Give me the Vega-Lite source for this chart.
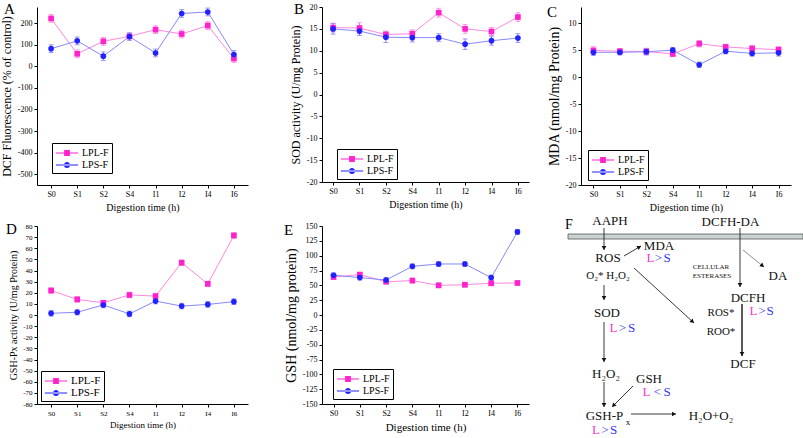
{
  "$schema": "https://vega.github.io/schema/vega-lite/v6.json",
  "background": "white",
  "padding": {"left": 0, "top": 2, "right": 0, "bottom": 0},
  "spacing": 3,
  "config": {
    "font": "Liberation Serif",
    "view": {"stroke": null},
    "axis": {"labelFont": "Liberation Serif", "titleFont": "Liberation Serif", "labelFontSize": 8, "titleFontWeight": "normal", "domainColor": "#000", "tickColor": "#000", "labelColor": "#000", "titleColor": "#000", "grid": false, "tickSize": 3, "labelPadding": 2, "labelExpr": "replace(datum.label, '\u2212', '-')"},
    "axisX": {"labelAngle": 0, "titleFontSize": 10, "titlePadding": 4},
    "axisY": {"titleFontSize": 12, "titlePadding": 4, "labelFlush": false},
    "legend": {"labelFont": "Liberation Serif", "labelFontSize": 10, "labelColor": "#000", "strokeColor": "#000", "fillColor": "white", "padding": 3, "rowPadding": 0, "labelOffset": 8, "symbolOffset": 5},
    "title": {"font": "Liberation Serif", "fontSize": 15, "fontWeight": "normal", "anchor": "start", "frame": "group", "offset": 0, "baseline": "alphabetic", "color": "#000"}
  },
  "datasets": {
    "d": [
      {"p":"A","s":"LPL-F","t":"S0","v":222,"e":18},{"p":"A","s":"LPL-F","t":"S1","v":58,"e":18},{"p":"A","s":"LPL-F","t":"S2","v":116,"e":18},{"p":"A","s":"LPL-F","t":"S4","v":139,"e":12},{"p":"A","s":"LPL-F","t":"I1","v":170,"e":18},{"p":"A","s":"LPL-F","t":"I2","v":150,"e":18},{"p":"A","s":"LPL-F","t":"I4","v":189,"e":18},{"p":"A","s":"LPL-F","t":"I6","v":36,"e":18},
      {"p":"A","s":"LPS-F","t":"S0","v":82,"e":18},{"p":"A","s":"LPS-F","t":"S1","v":118,"e":18},{"p":"A","s":"LPS-F","t":"S2","v":47,"e":20},{"p":"A","s":"LPS-F","t":"S4","v":138,"e":18},{"p":"A","s":"LPS-F","t":"I1","v":62,"e":18},{"p":"A","s":"LPS-F","t":"I2","v":245,"e":18},{"p":"A","s":"LPS-F","t":"I4","v":252,"e":18},{"p":"A","s":"LPS-F","t":"I6","v":55,"e":18},
      {"p":"B","s":"LPL-F","t":"S0","v":15.3,"e":1},{"p":"B","s":"LPL-F","t":"S1","v":15.2,"e":1.2},{"p":"B","s":"LPL-F","t":"S2","v":13.7,"e":0.8},{"p":"B","s":"LPL-F","t":"S4","v":13.9,"e":0.9},{"p":"B","s":"LPL-F","t":"I1","v":18.7,"e":1},{"p":"B","s":"LPL-F","t":"I2","v":15.0,"e":1},{"p":"B","s":"LPL-F","t":"I4","v":14.4,"e":0.9},{"p":"B","s":"LPL-F","t":"I6","v":17.7,"e":1},
      {"p":"B","s":"LPS-F","t":"S0","v":15.0,"e":1.2},{"p":"B","s":"LPS-F","t":"S1","v":14.5,"e":1},{"p":"B","s":"LPS-F","t":"S2","v":13.1,"e":1.2},{"p":"B","s":"LPS-F","t":"S4","v":13.0,"e":1},{"p":"B","s":"LPS-F","t":"I1","v":13.0,"e":0.9},{"p":"B","s":"LPS-F","t":"I2","v":11.5,"e":1.2},{"p":"B","s":"LPS-F","t":"I4","v":12.3,"e":1},{"p":"B","s":"LPS-F","t":"I6","v":12.9,"e":1},
      {"p":"C","s":"LPL-F","t":"S0","v":4.95,"e":0.7},{"p":"C","s":"LPL-F","t":"S1","v":4.8,"e":0.5},{"p":"C","s":"LPL-F","t":"S2","v":4.75,"e":0.6},{"p":"C","s":"LPL-F","t":"S4","v":4.3,"e":0.5},{"p":"C","s":"LPL-F","t":"I1","v":6.2,"e":0.6},{"p":"C","s":"LPL-F","t":"I2","v":5.6,"e":0.5},{"p":"C","s":"LPL-F","t":"I4","v":5.3,"e":0.6},{"p":"C","s":"LPL-F","t":"I6","v":5.1,"e":0.5},
      {"p":"C","s":"LPS-F","t":"S0","v":4.6,"e":0.6},{"p":"C","s":"LPS-F","t":"S1","v":4.6,"e":0.5},{"p":"C","s":"LPS-F","t":"S2","v":4.7,"e":0.6},{"p":"C","s":"LPS-F","t":"S4","v":5.0,"e":0.5},{"p":"C","s":"LPS-F","t":"I1","v":2.3,"e":0.5},{"p":"C","s":"LPS-F","t":"I2","v":4.8,"e":0.5},{"p":"C","s":"LPS-F","t":"I4","v":4.4,"e":0.5},{"p":"C","s":"LPS-F","t":"I6","v":4.5,"e":0.6},
      {"p":"D","s":"LPL-F","t":"S0","v":22,"e":2.5},{"p":"D","s":"LPL-F","t":"S1","v":14,"e":2.5},{"p":"D","s":"LPL-F","t":"S2","v":11,"e":2},{"p":"D","s":"LPL-F","t":"S4","v":18,"e":2.5},{"p":"D","s":"LPL-F","t":"I1","v":17,"e":2.5},{"p":"D","s":"LPL-F","t":"I2","v":47,"e":2.5},{"p":"D","s":"LPL-F","t":"I4","v":28,"e":2.5},{"p":"D","s":"LPL-F","t":"I6","v":71.5,"e":2.5},
      {"p":"D","s":"LPS-F","t":"S0","v":1.5,"e":2.5},{"p":"D","s":"LPS-F","t":"S1","v":2.5,"e":2.5},{"p":"D","s":"LPS-F","t":"S2","v":9,"e":2.5},{"p":"D","s":"LPS-F","t":"S4","v":1,"e":2.5},{"p":"D","s":"LPS-F","t":"I1","v":12.5,"e":2.5},{"p":"D","s":"LPS-F","t":"I2","v":8,"e":2.5},{"p":"D","s":"LPS-F","t":"I4","v":9.5,"e":2.5},{"p":"D","s":"LPS-F","t":"I6","v":12,"e":2.5},
      {"p":"E","s":"LPL-F","t":"S0","v":64,"e":4},{"p":"E","s":"LPL-F","t":"S1","v":68,"e":4},{"p":"E","s":"LPL-F","t":"S2","v":56,"e":3},{"p":"E","s":"LPL-F","t":"S4","v":58,"e":4},{"p":"E","s":"LPL-F","t":"I1","v":50,"e":4},{"p":"E","s":"LPL-F","t":"I2","v":51,"e":4},{"p":"E","s":"LPL-F","t":"I4","v":53.5,"e":4},{"p":"E","s":"LPL-F","t":"I6","v":54,"e":4},
      {"p":"E","s":"LPS-F","t":"S0","v":67,"e":4},{"p":"E","s":"LPS-F","t":"S1","v":63,"e":4},{"p":"E","s":"LPS-F","t":"S2","v":59,"e":4},{"p":"E","s":"LPS-F","t":"S4","v":82,"e":4},{"p":"E","s":"LPS-F","t":"I1","v":86,"e":4},{"p":"E","s":"LPS-F","t":"I2","v":86,"e":4},{"p":"E","s":"LPS-F","t":"I4","v":63,"e":4},{"p":"E","s":"LPS-F","t":"I6","v":140,"e":4}
    ]
  },
  "resolve": {"scale": {"color": "independent", "fill": "independent", "stroke": "independent", "shape": "independent"}, "legend": {"color": "independent", "fill": "independent", "stroke": "independent", "shape": "independent"}},
  "vconcat": [
    {
      "bounds": "flush",
      "spacing": 74,
      "resolve": {"scale": {"color": "independent", "fill": "independent", "stroke": "independent", "shape": "independent"}, "legend": {"color": "independent", "fill": "independent", "stroke": "independent", "shape": "independent"}},
      "hconcat": [
        {
          "width": 211, "height": 178,
          "title": {"text": "A", "dx": -33, "dy": 14},
          "data": {"name": "d"},
          "transform": [{"filter": "datum.p === 'A'"}],
          "encoding": {
            "x": {"field": "t", "type": "ordinal", "sort": ["S0","S1","S2","S4","I1","I2","I4","I6"], "scale": {"type": "point", "padding": 0.54}, "axis": {"title": "Digestion time (h)"}},
            "y": {"field": "v", "type": "quantitative", "scale": {"domain": [-550, 275], "nice": false, "zero": false}, "axis": {"title": "DCF Fluorescence (% of control)", "values": [-500,-400,-300,-200,-100,0,100,200]}}
          },
          "layer": [
            {"mark": {"type": "errorbar", "ticks": {"size": 5}, "thickness": 1}, "encoding": {"yError": {"field": "e"}, "color": {"field": "s", "type": "nominal", "scale": {"domain": ["LPS-F","LPL-F"], "range": ["#7777ff", "#ff77dd"]}, "legend": null}}},
            {"mark": {"type": "line", "strokeWidth": 1}, "encoding": {"stroke": {"field": "s", "type": "nominal", "scale": {"domain": ["LPS-F","LPL-F","x"], "range": ["#8888ff", "#ff88e0", "#000"]}, "legend": null}}},
            {"mark": {"type": "point", "filled": true, "size": 32, "opacity": 1}, "encoding": {
              "fill": {"field": "s", "type": "nominal", "scale": {"domain": ["LPL-F","LPS-F"], "range": ["#ff22cc", "#2222ff"]}, "legend": {"title": null, "orient": "none", "legendX": 15, "legendY": 136, "labelFont": "Liberation Serif", "symbolSize": 144, "symbolType": {"expr": "datum.value === 'LPL-F' ? 'M-1.85,-0.085H1.85V0.085H-1.85Z M-0.48,-0.48H0.48V0.48H-0.48Z' : 'M-1.85,-0.085H1.85V0.085H-1.85Z M-0.52,0A0.52,0.52 0 1,0 0.52,0A0.52,0.52 0 1,0 -0.52,0Z'"}}},
              "shape": {"field": "s", "type": "nominal", "scale": {"domain": ["LPS-F","LPL-F","y"], "range": ["circle", "square", "circle"]}, "legend": null}}}
          ]
        },
        {
          "bounds": "flush",
          "spacing": 52,
          "resolve": {"scale": {"color": "independent", "fill": "independent", "stroke": "independent", "shape": "independent"}, "legend": {"color": "independent", "fill": "independent", "stroke": "independent", "shape": "independent"}},
          "hconcat": [
            {
              "width": 207, "height": 175,
              "title": {"text": "B", "dx": -28, "dy": 18},
              "data": {"name": "d"},
              "transform": [{"filter": "datum.p === 'B'"}],
              "encoding": {
                "x": {"field": "t", "type": "ordinal", "sort": ["S0","S1","S2","S4","I1","I2","I4","I6"], "scale": {"type": "point", "padding": 0.42}, "axis": {"title": "Digestion time (h)"}},
                "y": {"field": "v", "type": "quantitative", "scale": {"domain": [-20, 20], "nice": false, "zero": false}, "axis": {"title": "SOD activity (U/mg Protein)", "values": [-20,-15,-10,-5,0,5,10,15,20]}}
              },
              "layer": [
                {"mark": {"type": "errorbar", "ticks": {"size": 5}, "thickness": 1}, "encoding": {"yError": {"field": "e"}, "color": {"field": "s", "type": "nominal", "scale": {"domain": ["LPS-F","LPL-F"], "range": ["#7777ff", "#ff77dd"]}, "legend": null}}},
                {"mark": {"type": "line", "strokeWidth": 1}, "encoding": {"stroke": {"field": "s", "type": "nominal", "scale": {"domain": ["LPS-F","LPL-F","x"], "range": ["#8888ff", "#ff88e0", "#000"]}, "legend": null}}},
                {"mark": {"type": "point", "filled": true, "size": 32, "opacity": 1}, "encoding": {
                  "fill": {"field": "s", "type": "nominal", "scale": {"domain": ["LPL-F","LPS-F"], "range": ["#ff22cc", "#2222ff"]}, "legend": {"title": null, "orient": "none", "legendX": 15, "legendY": 142, "labelFont": "Liberation Serif", "symbolSize": 144, "symbolType": {"expr": "datum.value === 'LPL-F' ? 'M-1.85,-0.085H1.85V0.085H-1.85Z M-0.48,-0.48H0.48V0.48H-0.48Z' : 'M-1.85,-0.085H1.85V0.085H-1.85Z M-0.52,0A0.52,0.52 0 1,0 0.52,0A0.52,0.52 0 1,0 -0.52,0Z'"}}},
                  "shape": {"field": "s", "type": "nominal", "scale": {"domain": ["LPS-F","LPL-F","y"], "range": ["circle", "square", "circle"]}, "legend": null}}}
              ]
            },
            {
              "width": 210, "height": 178,
              "title": {"text": "C", "dx": -34, "dy": 17},
              "data": {"name": "d"},
              "transform": [{"filter": "datum.p === 'C'"}],
              "encoding": {
                "x": {"field": "t", "type": "ordinal", "sort": ["S0","S1","S2","S4","I1","I2","I4","I6"], "scale": {"type": "point", "padding": 0.47}, "axis": {"title": "Digestion time (h)"}},
                "y": {"field": "v", "type": "quantitative", "scale": {"domain": [-20, 13], "nice": false, "zero": false}, "axis": {"title": "MDA (nmol/mg Protein)", "titleFontSize": 14, "values": [-20,-15,-10,-5,0,5,10]}}
              },
              "layer": [
                {"mark": {"type": "errorbar", "ticks": {"size": 5}, "thickness": 1}, "encoding": {"yError": {"field": "e"}, "color": {"field": "s", "type": "nominal", "scale": {"domain": ["LPS-F","LPL-F"], "range": ["#7777ff", "#ff77dd"]}, "legend": null}}},
                {"mark": {"type": "line", "strokeWidth": 1}, "encoding": {"stroke": {"field": "s", "type": "nominal", "scale": {"domain": ["LPS-F","LPL-F","x"], "range": ["#8888ff", "#ff88e0", "#000"]}, "legend": null}}},
                {"mark": {"type": "point", "filled": true, "size": 32, "opacity": 1}, "encoding": {
                  "fill": {"field": "s", "type": "nominal", "scale": {"domain": ["LPL-F","LPS-F"], "range": ["#ff22cc", "#2222ff"]}, "legend": {"title": null, "orient": "none", "legendX": 7, "legendY": 143, "labelFont": "Liberation Serif", "symbolSize": 144, "symbolType": {"expr": "datum.value === 'LPL-F' ? 'M-1.85,-0.085H1.85V0.085H-1.85Z M-0.48,-0.48H0.48V0.48H-0.48Z' : 'M-1.85,-0.085H1.85V0.085H-1.85Z M-0.52,0A0.52,0.52 0 1,0 0.52,0A0.52,0.52 0 1,0 -0.52,0Z'"}}},
                  "shape": {"field": "s", "type": "nominal", "scale": {"domain": ["LPS-F","LPL-F","y"], "range": ["circle", "square", "circle"]}, "legend": null}}}
              ]
            }
          ]
        }
      ]
    },
    {
      "bounds": "flush",
      "spacing": 74,
      "resolve": {"scale": {"color": "independent", "fill": "independent", "stroke": "independent", "shape": "independent"}, "legend": {"color": "independent", "fill": "independent", "stroke": "independent", "shape": "independent"}},
      "hconcat": [
        {
          "width": 211, "height": 178,
          "title": {"text": "D", "dx": -31, "dy": 19},
          "data": {"name": "d"},
          "transform": [{"filter": "datum.p === 'D'"}],
          "encoding": {
            "x": {"field": "t", "type": "ordinal", "sort": ["S0","S1","S2","S4","I1","I2","I4","I6"], "scale": {"type": "point", "padding": 0.54}, "axis": {"title": "Digestion time (h)", "titleFontSize": 9, "labelFontSize": 7}},
            "y": {"field": "v", "type": "quantitative", "scale": {"domain": [-80, 80], "nice": false, "zero": false}, "axis": {"title": "GSH-Px activity (U/mg Protein)", "titleFontSize": 10, "labelFontSize": 7, "values": [-80,-70,-60,-50,-40,-30,-20,-10,0,10,20,30,40,50,60,70,80]}}
          },
          "layer": [
            {"mark": {"type": "errorbar", "ticks": {"size": 5}, "thickness": 1}, "encoding": {"yError": {"field": "e"}, "color": {"field": "s", "type": "nominal", "scale": {"domain": ["LPS-F","LPL-F"], "range": ["#7777ff", "#ff77dd"]}, "legend": null}}},
            {"mark": {"type": "line", "strokeWidth": 1}, "encoding": {"stroke": {"field": "s", "type": "nominal", "scale": {"domain": ["LPS-F","LPL-F","x"], "range": ["#8888ff", "#ff88e0", "#000"]}, "legend": null}}},
            {"mark": {"type": "point", "filled": true, "size": 32, "opacity": 1}, "encoding": {
              "fill": {"field": "s", "type": "nominal", "scale": {"domain": ["LPL-F","LPS-F"], "range": ["#ff22cc", "#2222ff"]}, "legend": {"title": null, "orient": "none", "legendX": 4, "legendY": 145, "labelFont": "Liberation Serif", "labelFontSize": 11, "symbolSize": 144, "symbolType": {"expr": "datum.value === 'LPL-F' ? 'M-1.85,-0.085H1.85V0.085H-1.85Z M-0.48,-0.48H0.48V0.48H-0.48Z' : 'M-1.85,-0.085H1.85V0.085H-1.85Z M-0.52,0A0.52,0.52 0 1,0 0.52,0A0.52,0.52 0 1,0 -0.52,0Z'"}}},
              "shape": {"field": "s", "type": "nominal", "scale": {"domain": ["LPS-F","LPL-F","y"], "range": ["circle", "square", "circle"]}, "legend": null}}}
          ]
        },
        {
          "bounds": "flush",
          "spacing": 27,
          "resolve": {"scale": {"color": "independent", "fill": "independent", "stroke": "independent", "shape": "independent"}, "legend": {"color": "independent", "fill": "independent", "stroke": "independent", "shape": "independent"}},
          "hconcat": [
            {
              "width": 207, "height": 178,
              "title": {"text": "E", "dx": -38, "dy": 20},
              "data": {"name": "d"},
              "transform": [{"filter": "datum.p === 'E'"}],
              "encoding": {
                "x": {"field": "t", "type": "ordinal", "sort": ["S0","S1","S2","S4","I1","I2","I4","I6"], "scale": {"type": "point", "padding": 0.44}, "axis": {"title": "Digestion time (h)", "titleFontSize": 11}},
                "y": {"field": "v", "type": "quantitative", "scale": {"domain": [-150, 150], "nice": false, "zero": false}, "axis": {"title": "GSH (nmol/mg protein)", "titleFontSize": 14, "values": [-150,-125,-100,-75,-50,-25,0,25,50,75,100,125,150]}}
              },
              "layer": [
                {"mark": {"type": "errorbar", "ticks": {"size": 5}, "thickness": 1}, "encoding": {"yError": {"field": "e"}, "color": {"field": "s", "type": "nominal", "scale": {"domain": ["LPS-F","LPL-F"], "range": ["#7777ff", "#ff77dd"]}, "legend": null}}},
                {"mark": {"type": "line", "strokeWidth": 1}, "encoding": {"stroke": {"field": "s", "type": "nominal", "scale": {"domain": ["LPS-F","LPL-F","x"], "range": ["#8888ff", "#ff88e0", "#000"]}, "legend": null}}},
                {"mark": {"type": "point", "filled": true, "size": 32, "opacity": 1}, "encoding": {
                  "fill": {"field": "s", "type": "nominal", "scale": {"domain": ["LPL-F","LPS-F"], "range": ["#ff22cc", "#2222ff"]}, "legend": {"title": null, "orient": "none", "legendX": 11, "legendY": 143, "labelFont": "Liberation Serif", "symbolSize": 144, "symbolType": {"expr": "datum.value === 'LPL-F' ? 'M-1.85,-0.085H1.85V0.085H-1.85Z M-0.48,-0.48H0.48V0.48H-0.48Z' : 'M-1.85,-0.085H1.85V0.085H-1.85Z M-0.52,0A0.52,0.52 0 1,0 0.52,0A0.52,0.52 0 1,0 -0.52,0Z'"}}},
                  "shape": {"field": "s", "type": "nominal", "scale": {"domain": ["LPS-F","LPL-F","y"], "range": ["circle", "square", "circle"]}, "legend": null}}}
              ]
            },
            {
              "width": 248, "height": 212,
              "title": {"text": "F", "dx": 9, "dy": 21, "fontSize": 14},
              "encoding": {
                "x": {"field": "x", "type": "quantitative", "scale": {"domain": [0, 248], "nice": false, "zero": false}, "axis": null},
                "y": {"field": "y", "type": "quantitative", "scale": {"domain": [0, 212], "nice": false, "zero": false, "reverse": true}, "axis": null}
              },
              "layer": [
                {"data": {"values": [{"x": 12, "x2": 247, "y": 8, "y2": 13}]}, "mark": {"type": "rect", "fill": "#c9d3d3", "stroke": "#555", "strokeWidth": 0.8}, "encoding": {"x2": {"field": "x2"}, "y2": {"field": "y2"}}},
                {"data": {"values": [
                  {"x": 48, "y": 2, "x2": 48, "y2": 24},
                  {"x": 68, "y": 30, "x2": 85, "y2": 20},
                  {"x": 184, "y": 2, "x2": 184, "y2": 61},
                  {"x": 78, "y": 42, "x2": 138, "y2": 97},
                  {"x": 48, "y": 59, "x2": 48, "y2": 74},
                  {"x": 48, "y": 96, "x2": 48, "y2": 136},
                  {"x": 48, "y": 156, "x2": 48, "y2": 181},
                  {"x": 77, "y": 160, "x2": 56, "y2": 181},
                  {"x": 75, "y": 188, "x2": 120, "y2": 188}
                ]}, "mark": {"type": "rule", "color": "#222", "strokeWidth": 0.9}, "encoding": {"x2": {"field": "x2"}, "y2": {"field": "y2"}}},
                {"data": {"values": [{"x": 187, "y": 24, "x2": 208, "y2": 41}]}, "mark": {"type": "rule", "color": "#444", "strokeWidth": 0.6}, "encoding": {"x2": {"field": "x2"}, "y2": {"field": "y2"}}},
                {"data": {"values": [{"x": 186, "y": 78, "x2": 186, "y2": 130}]}, "mark": {"type": "rule", "color": "#222", "strokeWidth": 1.5}, "encoding": {"x2": {"field": "x2"}, "y2": {"field": "y2"}}},
                {"data": {"values": [
                  {"x": 48, "y": 22, "a": 180},
                  {"x": 83.3, "y": 21, "a": 59.5},
                  {"x": 184, "y": 59, "a": 180},
                  {"x": 206.4, "y": 39.7, "a": 129},
                  {"x": 136.5, "y": 95.6, "a": 132.5},
                  {"x": 48, "y": 72, "a": 180},
                  {"x": 48, "y": 134, "a": 180},
                  {"x": 186, "y": 128, "a": 180},
                  {"x": 48, "y": 179, "a": 180},
                  {"x": 57.4, "y": 179.6, "a": 225},
                  {"x": 118, "y": 188, "a": 90}
                ]}, "mark": {"type": "point", "shape": "triangle-up", "filled": true, "color": "#111", "size": 22, "opacity": 1}, "encoding": {"angle": {"field": "a", "type": "quantitative", "scale": null}}},
                {"data": {"values": [
                  {"x": 54, "y": -1, "t": "AAPH"},
                  {"x": 174.5, "y": 0, "t": "DCFH-DA"},
                  {"x": 52, "y": 36, "t": "ROS"},
                  {"x": 103, "y": 24, "t": "MDA"},
                  {"x": 222, "y": 54, "t": "DA"},
                  {"x": 51, "y": 91, "t": "SOD"},
                  {"x": 192, "y": 76, "t": "DCFH"},
                  {"x": 187, "y": 142, "t": "DCF"},
                  {"x": 50, "y": 152, "t": "H₂O₂"},
                  {"x": 93, "y": 157, "t": "GSH"},
                  {"x": 48.5, "y": 194, "t": "GSH-P"},
                  {"x": 155, "y": 194, "t": "H₂O+O₂"}
                ]}, "mark": {"type": "text", "font": "Liberation Serif", "fontSize": 13, "color": "#111", "align": "center", "baseline": "alphabetic"}, "encoding": {"text": {"field": "t"}}},
                {"data": {"values": [
                  {"x": 52, "y": 53, "t": "O₂* H₂O₂"},
                  {"x": 165, "y": 90, "t": "ROS*"},
                  {"x": 165, "y": 109, "t": "ROO*"}
                ]}, "mark": {"type": "text", "font": "Liberation Serif", "fontSize": 11, "color": "#111", "align": "center", "baseline": "alphabetic"}, "encoding": {"text": {"field": "t"}}},
                {"data": {"values": [
                  {"x": 155, "y": 43, "t": "CELLULAR"},
                  {"x": 156, "y": 52, "t": "ESTERASES"}
                ]}, "mark": {"type": "text", "font": "Liberation Serif", "fontSize": 7, "color": "#111", "align": "center", "baseline": "alphabetic"}, "encoding": {"text": {"field": "t"}}},
                {"data": {"values": [{"x": 72, "y": 199, "t": "x"}]}, "mark": {"type": "text", "font": "Liberation Serif", "fontSize": 9, "color": "#111", "align": "center", "baseline": "alphabetic"}, "encoding": {"text": {"field": "t"}}},
                {"data": {"values": [
                  {"x": 94.5, "y": 36, "t": "L", "c": "L"}, {"x": 102.5, "y": 36, "t": ">", "c": "op"}, {"x": 111, "y": 36, "t": "S", "c": "S"},
                  {"x": 57.5, "y": 106, "t": "L", "c": "L"}, {"x": 66.5, "y": 106, "t": ">", "c": "op"}, {"x": 75.5, "y": 106, "t": "S", "c": "S"},
                  {"x": 197.5, "y": 89, "t": "L", "c": "L"}, {"x": 206, "y": 89, "t": ">", "c": "op"}, {"x": 214, "y": 89, "t": "S", "c": "S"},
                  {"x": 90.5, "y": 170, "t": "L", "c": "L"}, {"x": 101.5, "y": 170, "t": "<", "c": "op"}, {"x": 111, "y": 170, "t": "S", "c": "S"},
                  {"x": 40, "y": 208, "t": "L", "c": "L"}, {"x": 49, "y": 208, "t": ">", "c": "op"}, {"x": 57.5, "y": 208, "t": "S", "c": "S"}
                ]}, "mark": {"type": "text", "font": "Liberation Serif", "fontSize": 13, "align": "center", "baseline": "alphabetic"}, "encoding": {"text": {"field": "t"}, "color": {"field": "c", "type": "nominal", "scale": {"domain": ["L", "op", "S"], "range": ["#ff33cc", "#4a4ad8", "#3333ff"]}, "legend": null}}}
              ]
            }
          ]
        }
      ]
    }
  ]
}
